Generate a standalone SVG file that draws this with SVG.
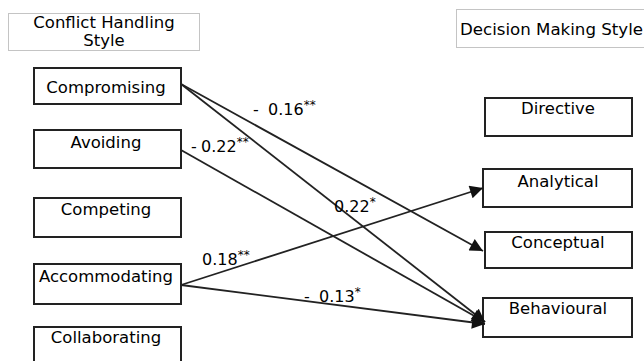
<svg xmlns="http://www.w3.org/2000/svg" width="644" height="361" viewBox="0 0 644 361">
<style>
  .box { fill: #fff; stroke: #222; stroke-width: 2; }
  .title { fill: #fff; stroke: #c4c4c4; stroke-width: 1; }
  text { font-family: "DejaVu Sans", "Liberation Sans", sans-serif; font-size: 16.5px; fill: #000; }
  .lbl { font-size: 16px; }
  .sup { font-size: 12px; }
  .conn line { stroke: #222; stroke-width: 1.8; }
</style>
<defs>
  <marker id="arrL" viewBox="0 0 10 10" refX="10" refY="5" markerWidth="16" markerHeight="13" markerUnits="userSpaceOnUse" orient="auto">
    <path d="M0,0 L10,5 L0,10 z" fill="#111"/>
  </marker>
</defs>
<rect width="644" height="361" fill="#fff"/>

<g id="title-conflict">
  <rect class="title" x="8.5" y="13.5" width="191" height="37"/>
  <text x="104" y="28" text-anchor="middle">Conflict Handling</text>
  <text x="104" y="46" text-anchor="middle">Style</text>
</g>
<g id="title-decision">
  <rect class="title" x="456.5" y="9.5" width="190" height="38"/>
  <text x="460" y="35" textLength="183" lengthAdjust="spacingAndGlyphs">Decision Making Style</text>
</g>

<g id="compromising">
  <rect class="box" x="34" y="68" width="147" height="36"/>
  <text x="106" y="93" text-anchor="middle">Compromising</text>
</g>
<g id="avoiding">
  <rect class="box" x="34" y="130" width="147" height="38"/>
  <text x="106" y="148" text-anchor="middle">Avoiding</text>
</g>
<g id="competing">
  <rect class="box" x="34" y="198" width="147" height="39"/>
  <text x="106" y="215" text-anchor="middle">Competing</text>
</g>
<g id="accommodating">
  <rect class="box" x="34" y="264" width="147" height="40"/>
  <text x="106" y="282" text-anchor="middle">Accommodating</text>
</g>
<g id="collaborating">
  <rect class="box" x="34" y="327" width="147" height="40"/>
  <text x="106" y="343" text-anchor="middle">Collaborating</text>
</g>

<g id="directive">
  <rect class="box" x="485" y="98" width="147" height="38"/>
  <text x="558" y="114" text-anchor="middle">Directive</text>
</g>
<g id="analytical">
  <rect class="box" x="483" y="169" width="149" height="38"/>
  <text x="558" y="187" text-anchor="middle">Analytical</text>
</g>
<g id="conceptual">
  <rect class="box" x="485" y="232" width="147" height="36"/>
  <text x="558" y="248" text-anchor="middle">Conceptual</text>
</g>
<g id="behavioural">
  <rect class="box" x="483" y="298" width="149" height="39"/>
  <text x="558" y="314" text-anchor="middle">Behavioural</text>
</g>

<g id="connectors" class="conn">
  <line x1="181" y1="84" x2="483" y2="251" marker-end="url(#arrL)"/>
  <line x1="181" y1="84" x2="485" y2="322" marker-end="url(#arrL)"/>
  <line x1="181" y1="150" x2="485" y2="322" marker-end="url(#arrL)"/>
  <line x1="181" y1="285" x2="483" y2="188" marker-end="url(#arrL)"/>
  <line x1="181" y1="285" x2="485" y2="324" marker-end="url(#arrL)"/>
</g>

<g id="labels">
  <text class="lbl" x="253" y="115">-<tspan x="268">0.16</tspan><tspan class="sup" dy="-6">**</tspan></text>
  <text class="lbl" x="191" y="152">-<tspan x="201">0.22</tspan><tspan class="sup" dy="-6">**</tspan></text>
  <text class="lbl" x="334" y="212">0.22<tspan class="sup" dy="-6">*</tspan></text>
  <text class="lbl" x="202" y="265">0.18<tspan class="sup" dy="-6">**</tspan></text>
  <text class="lbl" x="304" y="302">-<tspan x="319">0.13</tspan><tspan class="sup" dy="-6">*</tspan></text>
</g>
</svg>
